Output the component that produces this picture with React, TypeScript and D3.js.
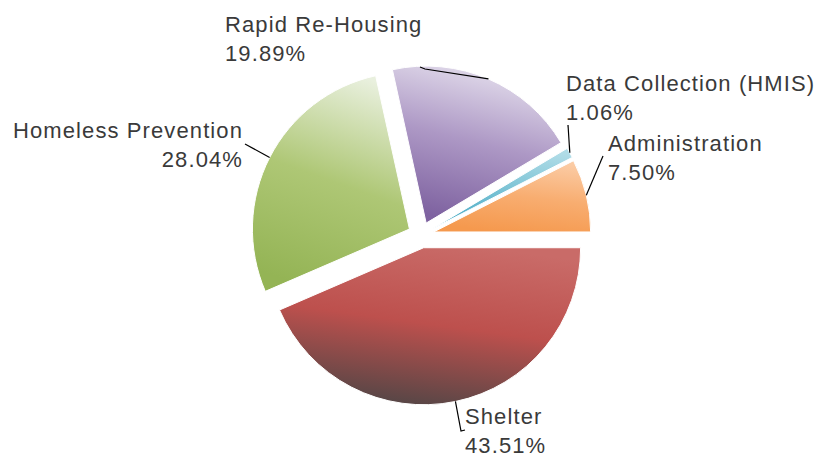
import React from "react";
import * as d3 from "d3";

const categories = ["Shelter", "Homeless Prevention", "Rapid Re-Housing", "Data Collection (HMIS)", "Administration"];
const values = [43.51, 28.04, 19.89, 1.06, 7.5];
const percentLabels = ["43.51%", "28.04%", "19.89%", "1.06%", "7.50%"];

// gradient stops per slice: [light, mid, dark] and mid offset
const gradients = [
  ["#c96b68", "#bd504d", "#574646"],
  ["#e9f0de", "#aec775", "#94b455"],
  ["#e6e1ee", "#ad98c5", "#7e62a0"],
  ["#b0dce7", "#7ec4d6", "#4bacc6"],
  ["#fbcba4", "#f8ad70", "#f5994e"],
];
const midStops = [0.5, 0.5, 0.5, 0.5, 0.5];

// label layout: x, baseline y of first line, anchor, leader end points
const labelLayout = [
  { x: 465, y: 424, anchor: "start", leader: [[461, 431], [465, 430]] },
  { x: 243, y: 138, anchor: "end", leader: [[245, 144]] },
  { x: 225, y: 32, anchor: "start", leader: [[425, 69], [420, 67]] },
  { x: 566, y: 91, anchor: "start", leader: [[568, 125]] },
  { x: 608, y: 151, anchor: "start", leader: [[603, 156]] },
];

const W = 821;
const H = 458;
const cx = 421;
const cy = 235;
const R = 157;
const explode = 13;
const lineGap = 29;

export default function App() {
  const pie = d3
    .pie<number>()
    .sort(null)
    .value((d) => d)
    .startAngle(Math.PI / 2)
    .endAngle(Math.PI / 2 + 2 * Math.PI);
  const arcs = pie(values);
  const arc = d3.arc<d3.PieArcDatum<number>>().innerRadius(0).outerRadius(R);

  return (
    <svg
      width={W}
      height={H}
      style={{ position: "absolute", left: 0, top: 0, display: "block", background: "#fff" }}
    >
      <defs>
        {gradients.map((g, i) => (
          <linearGradient key={i} id={`g${i}`} x1="0.68" y1="0" x2="0.42" y2="1">
            <stop offset="0" stopColor={g[0]} />
            <stop offset={midStops[i]} stopColor={g[1]} />
            <stop offset="1" stopColor={g[2]} />
          </linearGradient>
        ))}
      </defs>
      {arcs.map((a, i) => {
        const mid = (a.startAngle + a.endAngle) / 2;
        const ox = cx + explode * Math.sin(mid);
        const oy = cy - explode * Math.cos(mid);
        return (
          <path
            key={i}
            d={arc(a) || ""}
            transform={`translate(${ox},${oy})`}
            fill={`url(#g${i})`}
            stroke="#ffffff"
            strokeWidth={1}
          />
        );
      })}
      {arcs.map((a, i) => {
        const mid = (a.startAngle + a.endAngle) / 2;
        const ox = cx + explode * Math.sin(mid);
        const oy = cy - explode * Math.cos(mid);
        const sx = ox + R * Math.sin(mid);
        const sy = oy - R * Math.cos(mid);
        const L = labelLayout[i];
        const pts = [[sx, sy], ...L.leader];
        return (
          <polyline
            key={`l${i}`}
            points={pts.map((p) => p.join(",")).join(" ")}
            fill="none"
            stroke="#000"
            strokeWidth={1.2}
          />
        );
      })}
      {categories.map((c, i) => {
        const L = labelLayout[i];
        return (
          <text
            key={`t${i}`}
            x={L.x}
            y={L.y}
            textAnchor={L.anchor as any}
            fontFamily="'Liberation Sans', Arial, sans-serif"
            fontSize={22}
            letterSpacing={1.1}
            fill="#3a3a3a"
          >
            <tspan x={L.x} y={L.y}>{c}</tspan>
            <tspan x={L.x} y={L.y + lineGap}>{percentLabels[i]}</tspan>
          </text>
        );
      })}
    </svg>
  );
}
